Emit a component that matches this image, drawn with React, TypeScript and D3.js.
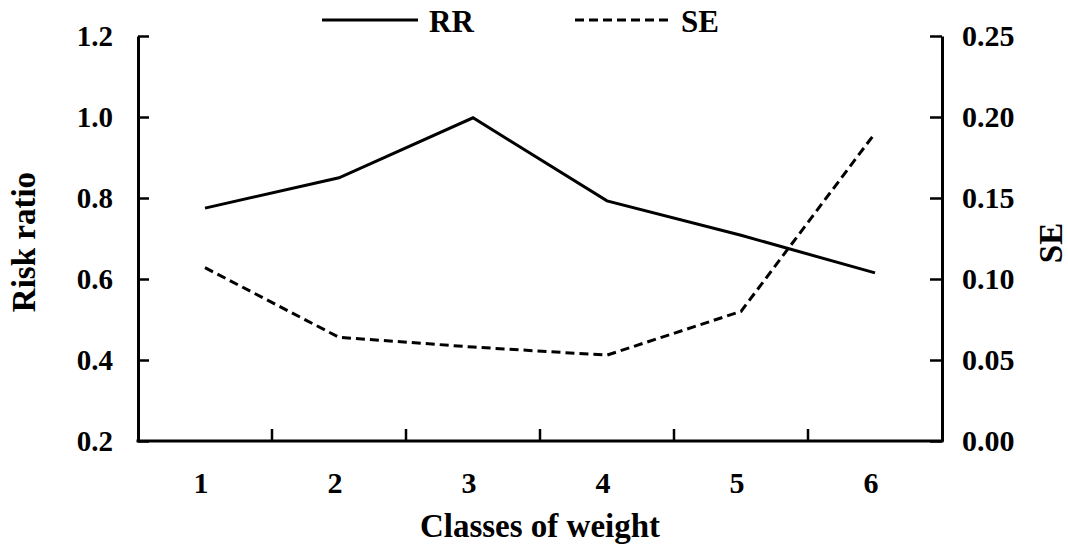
import * as React from "react"
import * as d3 from "d3"

const classes = ["1", "2", "3", "4", "5", "6"]
const riskRatio = [0.775, 0.85, 0.998, 0.793, 0.708, 0.615]
const stdErr = [0.107, 0.064, 0.058, 0.053, 0.08, 0.19]
const rrTicks = [0.2, 0.4, 0.6, 0.8, 1.0, 1.2]
const seTicks = [0, 0.05, 0.1, 0.15, 0.2, 0.25]

const W = 1068
const H = 555
const FONT = "Liberation Serif, Times New Roman, serif"

export default function App() {
  const svgRef = React.useRef<SVGSVGElement>(null)

  React.useEffect(() => {
    if (!svgRef.current) return
    const svg = d3.select(svgRef.current)
    svg.selectAll("*").remove()

    const left = 138
    const right = 942
    const top = 36
    const bottom = 441

    const x = d3.scaleBand<string>().domain(classes).range([left, right])
    const yL = d3.scaleLinear().domain([0.2, 1.2]).range([bottom, top])
    const yR = d3.scaleLinear().domain([0, 0.25]).range([bottom, top])
    const cx = (c: string) => (x(c) ?? 0) + x.bandwidth() / 2

    // left axis, ticks pointing inward
    const gl = svg
      .append("g")
      .attr("transform", `translate(${left},0)`)
      .call(
        d3
          .axisLeft(yL)
          .tickValues(rrTicks)
          .tickSizeInner(-11)
          .tickSizeOuter(0)
          .tickPadding(25)
          .tickFormat(d3.format(".1f"))
      )
    gl.selectAll("text").attr("font-size", 29)

    // right axis
    const gr = svg
      .append("g")
      .attr("transform", `translate(${right},0)`)
      .call(
        d3
          .axisRight(yR)
          .tickValues(seTicks)
          .tickSizeInner(-12)
          .tickSizeOuter(0)
          .tickPadding(20)
          .tickFormat(d3.format(".2f"))
      )
    gr.selectAll("text").attr("font-size", 30)

    // bottom axis labels
    const gb = svg
      .append("g")
      .attr("transform", `translate(0,${bottom})`)
      .call(d3.axisBottom(x).tickSize(0).tickPadding(31))
    gb.select(".domain").remove()
    gb.selectAll("text").attr("font-size", 30).attr("dx", -4)

    svg.selectAll("g").attr("font-family", null).attr("font-size", null)

    // bottom axis line and between-category ticks
    svg
      .append("line")
      .attr("x1", left)
      .attr("x2", right)
      .attr("y1", bottom)
      .attr("y2", bottom)
      .attr("stroke", "#000")
      .attr("stroke-width", 3)
      .attr("stroke-linecap", "square")
    svg
      .append("g")
      .selectAll("line")
      .data(classes.slice(1))
      .enter()
      .append("line")
      .attr("x1", (d) => x(d) ?? 0)
      .attr("x2", (d) => x(d) ?? 0)
      .attr("y1", bottom)
      .attr("y2", bottom - 12)
      .attr("stroke", "#000")
      .attr("stroke-width", 2.5)

    svg
      .selectAll(".domain, .tick line")
      .attr("stroke", "#000")
      .attr("stroke-width", 3)
    svg.selectAll(".tick line").attr("stroke-width", 2.5)
    svg.selectAll(".tick text").attr("fill", "#000")

    // series
    const lineRR = d3
      .line<number>()
      .x((_, i) => cx(classes[i]))
      .y((d) => yL(d))
    const lineSE = d3
      .line<number>()
      .x((_, i) => cx(classes[i]))
      .y((d) => yR(d))

    svg
      .append("path")
      .attr("d", lineRR(riskRatio) ?? "")
      .attr("fill", "none")
      .attr("stroke", "#000")
      .attr("stroke-width", 3)
    svg
      .append("path")
      .attr("d", lineSE(stdErr) ?? "")
      .attr("fill", "none")
      .attr("stroke", "#000")
      .attr("stroke-width", 3)
      .attr("stroke-dasharray", "9,5")

    // axis titles
    const title = (sel: d3.Selection<SVGTextElement, unknown, null, undefined>) =>
      sel.attr("fill", "#000").attr("font-size", 33).attr("text-anchor", "middle")

    svg.append("text").attr("x", 540).attr("y", 537).text("Classes of weight").call(title)
    svg
      .append("text")
      .attr("transform", "translate(35,242) rotate(-90)")
      .text("Risk ratio")
      .call(title)
    svg
      .append("text")
      .attr("transform", "translate(1062,243) rotate(-90)")
      .text("SE")
      .call(title)

    // legend
    const legend = [
      { name: "RR", x1: 322, x2: 418, tx: 429, dash: null as string | null },
      { name: "SE", x1: 575, x2: 671, tx: 681, dash: "9,5" },
    ]
    const lg = svg.append("g")
    legend.forEach((l) => {
      lg.append("line")
        .attr("x1", l.x1)
        .attr("x2", l.x2)
        .attr("y1", 20)
        .attr("y2", 20)
        .attr("stroke", "#000")
        .attr("stroke-width", 3)
        .attr("stroke-dasharray", l.dash)
      lg.append("text")
        .attr("x", l.tx)
        .attr("y", 32)
        .text(l.name)
        .attr("fill", "#000")
        .attr("font-size", 31)
    })

    return () => {
      svg.selectAll("*").remove()
    }
  }, [])

  return (
    <svg
      ref={svgRef}
      width={W}
      height={H}
      viewBox={`0 0 ${W} ${H}`}
      fontFamily={FONT}
      fontWeight="bold"
      style={{ position: "absolute", left: 0, top: 0, background: "#fff" }}
    />
  )
}
